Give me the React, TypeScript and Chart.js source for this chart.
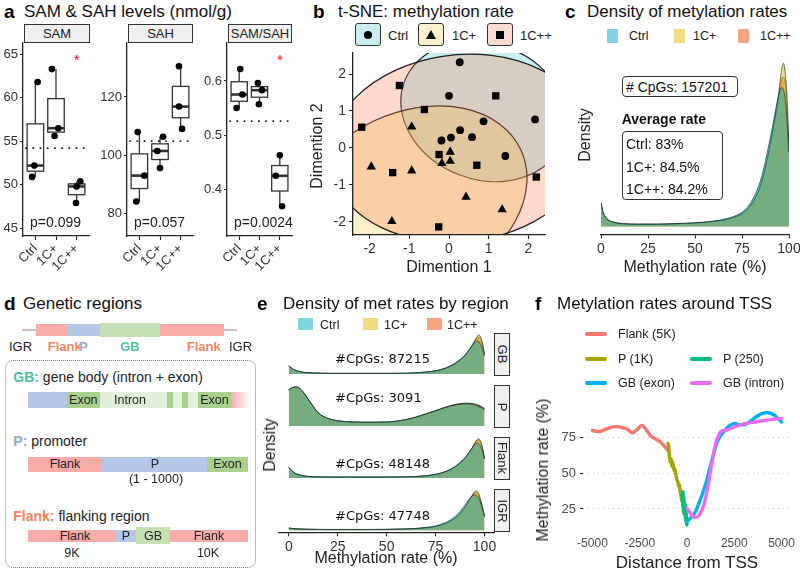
import React, { useEffect, useRef } from "react";
import { Chart, registerables } from "chart.js";

Chart.register(...registerables);

const SANS = '"Liberation Sans", Arial, Helvetica, sans-serif';
const DEJA = '"DejaVu Sans", Verdana, sans-serif';
Chart.defaults.font.family = SANS;
Chart.defaults.color = "#333";

// ---------------- a: SAM & SAH ----------------
const groups = ["Ctrl", "1C+", "1C++"];
const samCtrl = [50.9, 52.2, 61.8];
const samOneC = [55.6, 56.5, 63.3];
const samTwoC = [47.9, 49.8, 50.4];
const samJitter = [[-0.16, -0.05, 0.11], [-0.07, 0.11, -0.2], [-0.03, 0.0, 0.18]];
const samTicks = [45, 50, 55, 60, 65];
const samRef = 54.2;
const samP = "p=0.099";
const samStar = 64.7;

const sahCtrl = [84.0, 92.9, 107.9];
const sahOneC = [95.5, 101.4, 106.3];
const sahTwoC = [109.0, 116.7, 130.6];
const sahJitter = [[-0.15, 0.24, -0.08], [0.0, -0.13, 0.15], [0.07, -0.08, -0.08]];
const sahTicks = [80, 100, 120];
const sahRef = 104.8;
const sahP = "p=0.057";

const ratioCtrl = [0.55, 0.575, 0.622];
const ratioOneC = [0.557, 0.583, 0.596];
const ratioTwoC = [0.369, 0.425, 0.463];
const ratioJitter = [[-0.13, 0.16, 0.05], [-0.03, 0.12, -0.08], [0.11, -0.2, 0.0]];
const ratioTicks = [0.4, 0.5, 0.6];
const ratioRef = 0.526;
const ratioP = "p=0.0024";
const ratioStar = 0.645;

// ---------------- b: t-SNE ----------------
const tsneCtrlX = [0.27, 0.0, 0.87, 2.17, -0.19, 0.05, 0.28, 0.58, 1.42];
const tsneCtrlY = [2.32, 1.41, 0.72, 0.77, 0.2, 0.28, 0.48, 0.29, -0.22];
const tsneOneCX = [-0.94, -1.96, -0.94, 0.03, 0.03, -0.18, 0.43, 1.34, -1.44];
const tsneOneCY = [0.57, -0.51, -0.62, -0.11, -0.36, -0.42, -1.33, -1.67, -1.99];
const tsneTwoCX = [-2.2, -1.25, -0.62, 1.18, -0.25, 0.7, -1.42, -0.26, 2.2];
const tsneTwoCY = [0.56, 1.69, 1.04, 1.41, -0.18, -0.47, -0.67, -2.14, -0.79];
const tsneTicks = [-2, -1, 0, 1, 2];
// ellipse (centre, major semi-axis vector, minor semi-axis vector) in data units
const ellCenter = [[0.88, 0.99], [-0.93, -1.42], [0.28, -0.01]];
const ellMajor = [[2.01, -0.79], [2.74, 1.37], [3.27, 0.54]];
const ellMinor = [[-0.59, -1.73], [0.94, -2.16], [0.45, -2.49]];
const ellFill = ["rgba(75,198,212,0.3)", "rgba(242,205,72,0.3)", "rgba(245,128,85,0.3)"];

// ---------------- c: density ----------------
const densX = [0, 1, 2, 4, 7, 10, 20, 30, 40, 50, 60, 65, 70, 75, 78, 80, 82, 84, 86, 88, 90, 92, 94, 95, 96, 97, 98, 99, 100];
const densCtrl = [9.4, 5.9, 4.2, 2.6, 1.7, 1.3, 1.0, 1.0, 1.2, 1.5, 2.2, 2.8, 3.8, 5.6, 7.7, 9.8, 12.6, 16.2, 21, 27.5, 34.5, 42, 50, 52.5, 54.3, 53.5, 50, 41, 29];
const densOneC = [9.0, 5.6, 4.0, 2.5, 1.6, 1.2, 0.9, 0.9, 1.1, 1.4, 2.0, 2.5, 3.4, 5.0, 6.8, 8.6, 11, 14.2, 18.6, 24.8, 31.8, 40, 48.5, 55, 61, 63.8, 60, 50, 30];
const densTwoC = [9.2, 5.8, 4.1, 2.5, 1.6, 1.2, 0.9, 0.9, 1.1, 1.4, 2.0, 2.6, 3.5, 5.1, 7.0, 8.9, 11.4, 14.6, 19.2, 25.4, 32.3, 40.4, 48.8, 53.5, 57.5, 58.3, 56, 45, 29.5];
const rateTicks = [0, 25, 50, 75, 100];
const densFill = ["rgba(0,172,190,0.5)", "rgba(226,186,10,0.5)", "rgba(235,80,10,0.5)"];

// ---------------- e: density by region ----------------
const eX = [0, 2, 4, 7, 10, 15, 20, 30, 40, 50, 60, 65, 70, 75, 80, 85, 88, 90, 92, 94, 95, 96, 97, 98, 99, 100];
const gbCtrl = [8.5, 5.3, 3.5, 2.0, 1.3, 0.9, 0.7, 0.7, 0.7, 0.7, 0.8, 1.3, 2.1, 3.5, 6.3, 11.5, 16, 20, 25, 30.5, 33, 34.5, 34, 31, 26, 19];
const gbOneC = [8.7, 5.3, 3.4, 1.9, 1.3, 0.9, 0.7, 0.7, 0.7, 0.7, 0.8, 1.2, 1.9, 3.2, 5.8, 10.8, 15.3, 19.3, 24.5, 31, 35, 38.5, 41, 39, 32, 21];
const gbTwoC = [8.6, 5.3, 3.4, 1.9, 1.3, 0.9, 0.7, 0.7, 0.7, 0.7, 0.8, 1.2, 2.0, 3.3, 6.0, 11, 15.5, 19.5, 24.8, 31, 34.5, 37.5, 38.6, 36.5, 30, 20];
const pCtrl = [38, 40.5, 41, 36.5, 28, 14, 8, 4.5, 4, 4.2, 6.8, 9.3, 12.6, 16, 19.5, 22.2, 23, 23.3, 23.2, 22.5, 22, 21.3, 20.5, 19.5, 18.3, 17];
const pOneC = [38, 40.5, 41, 36.5, 28, 14, 8, 4.5, 4, 4.2, 6.8, 9.3, 12.6, 16, 19.6, 22.4, 23.3, 23.6, 23.6, 23, 22.6, 22, 21.3, 20.3, 19.2, 18];
const pTwoC = [38, 40.5, 41, 36.5, 28, 14, 8, 4.5, 4, 4.2, 6.8, 9.4, 12.7, 16.2, 19.8, 22.7, 23.6, 24, 24, 23.6, 23.2, 22.7, 22, 21, 19.8, 18.5];
const flCtrl = [11, 6.5, 4.2, 2.5, 1.7, 1.2, 1.0, 1.0, 1.0, 1.0, 1.2, 1.6, 2.4, 3.9, 6.8, 12, 17, 21, 26, 31.5, 34, 35.8, 35.5, 32.5, 27, 19.5];
const flOneC = [11, 6.5, 4.1, 2.4, 1.6, 1.1, 1.0, 1.0, 1.0, 1.0, 1.1, 1.5, 2.2, 3.6, 6.2, 11.2, 16, 20, 25.5, 32, 36, 39, 40, 38, 31, 20];
const flTwoC = [11, 6.5, 4.1, 2.4, 1.6, 1.1, 1.0, 1.0, 1.0, 1.0, 1.1, 1.5, 2.3, 3.7, 6.4, 11.5, 16.4, 20.3, 25.7, 31.8, 35, 37.8, 38.7, 36.5, 30, 20];
const igrCtrl = [2.3, 1.9, 1.6, 1.3, 1.1, 1.0, 0.9, 0.9, 0.9, 1.0, 1.5, 2.0, 2.9, 4.5, 7.8, 14, 20.5, 25.5, 31.5, 35.5, 36, 35, 32.5, 28, 21.5, 14];
const igrOneC = [2.2, 1.8, 1.5, 1.2, 1.0, 0.9, 0.8, 0.8, 0.8, 0.9, 1.3, 1.7, 2.5, 3.9, 6.8, 12.3, 18, 23, 29.5, 36.5, 39.5, 40, 37.5, 31, 23, 14];
const igrTwoC = [2.2, 1.8, 1.5, 1.2, 1.0, 0.9, 0.8, 0.8, 0.8, 0.9, 1.3, 1.8, 2.6, 4.0, 7.0, 12.6, 18.5, 23.5, 29.8, 36, 38.5, 38.3, 36, 30, 22.5, 14];
const regionNames = ["GB", "P", "Flank", "IGR"];
const regionCpGs = ["#CpGs: 87215", "#CpGs: 3091", "#CpGs: 48148", "#CpGs: 47748"];

// ---------------- f: TSS ----------------
const flankX = [-5000, -4600, -4200, -3800, -3400, -3100, -2900, -2650, -2400, -2150, -1900, -1650, -1400, -1200, -1000];
const flankY = [80, 79.3, 81.5, 82.7, 82, 80.5, 78.3, 80.5, 83.6, 80.5, 76, 74, 72, 69, 66];
const p1kX = [-1000, -960, -920, -880, -840, -800, -760, -720, -680, -640, -600, -560, -520, -480, -440, -400, -360, -320, -280, -240, -200, -160, -120, -80, -40];
const p1kY = [71, 67, 61, 58, 60, 55, 58, 55, 52, 53, 50, 47, 45, 44, 41, 42, 37, 35, 31, 33, 25, 22, 26, 18, 16];
const p250X = [-250, -230, -210, -190, -170, -150, -130, -110, -90, -70, -50, -30, -10, 0];
const p250Y = [35, 29, 37, 26, 33, 22, 29, 24, 28, 19, 23, 16, 14, 15];
const exonX = [0, 200, 400, 600, 800, 1000, 1200, 1400, 1600, 1800, 2000, 2200, 2500, 2800, 3100, 3400, 3700, 4000, 4300, 4600, 5000];
const exonY = [16, 19, 22, 28, 35, 43, 53, 63, 72, 77, 80, 83, 85, 84, 84.5, 87, 90, 92, 92.5, 91, 86];
const intronX = [0, 150, 300, 450, 600, 750, 900, 1050, 1200, 1350, 1500, 1650, 1800, 2000, 2200, 2500, 2800, 3200, 3600, 4000, 4500, 5000];
const intronY = [25.5, 22.5, 20, 19, 20, 23, 28, 37, 48, 60, 70, 76, 79.5, 80, 80.8, 82.5, 84, 85.2, 86, 86.8, 87.8, 88.5];
const tssNames = ["Flank (5K)", "P (1K)", "P (250)", "GB (exon)", "GB (intron)"];
const tssColors = ["#F8766D", "#A3A500", "#00BF7D", "#00B0F6", "#E76BF3"];
const tssXTicks = [-5000, -2500, 0, 2500, 5000];
const tssYTicks = [25, 50, 75];

// ---------------- helpers ----------------
type Box = { x: number; y: number; w: number; h: number };
type Area = { l: number; t: number; r: number; b: number };

function common() {
  return {
    responsive: false,
    maintainAspectRatio: false,
    animation: false,
    devicePixelRatio: 1,
    events: [],
    plugins: { legend: { display: false }, tooltip: { enabled: false } },
  };
}
function pad(box: Box, area: Area, yVis: boolean, xVis: boolean) {
  return {
    left: yVis ? 0 : area.l - box.x,
    top: area.t - box.y,
    right: box.x + box.w - area.r,
    bottom: xVis ? 0 : box.y + box.h - area.b,
  };
}
type AxOpt = {
  size: number; horiz: boolean; min: number; max: number; ticks: number[];
  label?: (v: number) => string; font?: number; color?: string; pad?: number; rot?: number;
  tickLen?: number; line?: boolean; gridColor?: string; gridDash?: number[];
};
function axis(o: AxOpt) {
  return {
    type: "linear",
    display: true,
    min: o.min,
    max: o.max,
    afterBuildTicks: (s: any) => { s.ticks = o.ticks.map((v) => ({ value: v })); },
    afterFit: (s: any) => {
      if (o.horiz) { s.height = o.size; s.paddingLeft = 0; s.paddingRight = 0; }
      else { s.width = o.size; s.paddingTop = 0; s.paddingBottom = 0; }
    },
    ticks: {
      callback: (v: any) => (o.label ? o.label(v) : String(v)),
      font: { size: o.font ?? 14 },
      color: o.color ?? "#333",
      padding: o.pad ?? 2,
      minRotation: o.rot ?? 0,
      maxRotation: o.rot ?? 0,
      autoSkip: false,
    },
    grid: {
      display: true,
      drawOnChartArea: !!o.gridColor,
      color: o.gridColor ?? "rgba(0,0,0,0)",
      lineWidth: 1,
      drawTicks: (o.tickLen ?? 0) > 0,
      tickLength: o.tickLen ?? 0,
      tickColor: "#222",
      tickWidth: 1.1,
      tickBorderDash: [],
    },
    border: { display: o.line ?? true, color: "#222", width: 1.3, dash: o.gridDash ?? [] },
  };
}
function hidden(min: number, max: number) {
  return { type: "linear", display: false, min, max };
}
function quantile(vals: number[], p: number) {
  const s = [...vals].sort((a, b) => a - b);
  const h = (s.length - 1) * p;
  const lo = Math.floor(h);
  const hi = Math.min(lo + 1, s.length - 1);
  return s[lo] + (h - lo) * (s[hi] - s[lo]);
}

function ChartView({ box, make }: { box: Box; make: () => any }) {
  const ref = useRef<HTMLCanvasElement | null>(null);
  useEffect(() => {
    const chart = new Chart(ref.current as HTMLCanvasElement, make());
    return () => chart.destroy();
  }, []);
  return (
    <canvas
      ref={ref}
      width={box.w}
      height={box.h}
      style={{ position: "absolute", left: box.x, top: box.y, width: box.w, height: box.h }}
    />
  );
}

function T(props: {
  x: number; y: number; s?: number; c?: string; w?: number; a?: "l" | "c" | "r"; f?: string; r?: number;
  children: React.ReactNode;
}) {
  const { x, y, s = 14, c = "#222", w = 400, a = "l", f = SANS, r = 0, children } = props;
  const tx = a === "c" ? "-50%" : a === "r" ? "-100%" : "0%";
  return (
    <div
      style={{
        position: "absolute", left: x, top: y, fontSize: s, color: c, fontWeight: w, fontFamily: f,
        lineHeight: 1, whiteSpace: "nowrap",
        transform: `translate(${tx}, -50%)${r ? ` rotate(${r}deg)` : ""}`,
      }}
    >
      {children}
    </div>
  );
}

function Rect(props: { x0: number; x1: number; y0: number; y1: number; bg: string; extra?: any }) {
  const { x0, x1, y0, y1, bg, extra = {} } = props;
  return (
    <div style={{ position: "absolute", left: x0, top: y0, width: x1 - x0, height: y1 - y0, background: bg, boxSizing: "border-box", ...extra }} />
  );
}

// ---------------- chart makers ----------------
function boxChart(box: Box, area: Area, series: number[][], jitter: number[][], yMin: number, yMax: number,
  yTicks: number[], ref: number, pText: string, star: number | null) {
  return () => {
    const pts = series.flatMap((vals, g) => vals.map((v, i) => ({ x: g + 1 + jitter[g][i], y: v })));
    const plugin = {
      id: "boxes",
      beforeDatasetsDraw(chart: any) {
        const { ctx, scales } = chart;
        const x = scales.x, y = scales.y;
        ctx.save();
        series.forEach((vals, g) => {
          const q1 = quantile(vals, 0.25), md = quantile(vals, 0.5), q3 = quantile(vals, 0.75);
          const lo = Math.min(...vals), hi = Math.max(...vals);
          const xc = x.getPixelForValue(g + 1);
          const x0 = x.getPixelForValue(g + 1 - 0.4), x1 = x.getPixelForValue(g + 1 + 0.4);
          ctx.strokeStyle = "#333";
          ctx.lineWidth = 1.3;
          ctx.beginPath();
          ctx.moveTo(xc, y.getPixelForValue(hi)); ctx.lineTo(xc, y.getPixelForValue(q3));
          ctx.moveTo(xc, y.getPixelForValue(q1)); ctx.lineTo(xc, y.getPixelForValue(lo));
          ctx.stroke();
          const yt = y.getPixelForValue(q3), yb = y.getPixelForValue(q1);
          ctx.fillStyle = "#fff";
          ctx.fillRect(x0, yt, x1 - x0, yb - yt);
          ctx.strokeRect(x0, yt, x1 - x0, yb - yt);
          ctx.lineWidth = 2.6;
          const ym = y.getPixelForValue(md);
          ctx.beginPath(); ctx.moveTo(x0, ym); ctx.lineTo(x1, ym); ctx.stroke();
        });
        const ca = chart.chartArea;
        const yr = y.getPixelForValue(ref);
        ctx.strokeStyle = "#111";
        ctx.lineWidth = 1.8;
        ctx.lineCap = "round";
        ctx.setLineDash([0.2, 7]);
        ctx.beginPath(); ctx.moveTo(ca.left + 3, yr); ctx.lineTo(ca.right, yr); ctx.stroke();
        ctx.restore();
      },
      afterDatasetsDraw(chart: any) {
        const { ctx, scales, chartArea: ca } = chart;
        ctx.save();
        ctx.font = `14px ${SANS}`;
        ctx.fillStyle = "#222";
        ctx.textBaseline = "middle";
        ctx.textAlign = "left";
        ctx.fillText(pText, ca.left + 7, ca.bottom - 13);
        if (star !== null) {
          ctx.fillStyle = "#ff0000";
          ctx.textAlign = "center";
          ctx.textBaseline = "alphabetic";
          ctx.font = `15px ${SANS}`;
          ctx.fillText("*", scales.x.getPixelForValue(3), scales.y.getPixelForValue(star) + 8);
        }
        ctx.restore();
      },
    };
    return {
      type: "scatter",
      data: { datasets: [{ data: pts, pointRadius: 3.3, backgroundColor: "#000", borderColor: "#000", borderWidth: 0 }] },
      options: {
        ...common(),
        layout: { padding: pad(box, area, true, true) },
        scales: {
          x: axis({ size: box.y + box.h - area.b, horiz: true, min: 0.4, max: 3.6, ticks: [1, 2, 3],
            label: (v) => groups[v - 1], font: 13, rot: 45, tickLen: 4, pad: 1 }),
          y: axis({ size: area.l - box.x, horiz: false, min: yMin, max: yMax, ticks: yTicks, font: 13, tickLen: 3, pad: 2 }),
        },
      },
      plugins: [plugin],
    };
  };
}

function tsneChart(box: Box, area: Area) {
  return () => {
    const mk = (xs: number[], ys: number[]) => xs.map((x, i) => ({ x, y: ys[i] }));
    const plugin = {
      id: "ellipses",
      beforeDraw(chart: any) {
        const { ctx, chartArea: ca, scales } = chart;
        const x = scales.x, y = scales.y;
        ctx.save();
        ctx.beginPath();
        ctx.rect(ca.left, ca.top, ca.right - ca.left, ca.bottom - ca.top);
        ctx.clip();
        ellCenter.forEach((c, i) => {
          const cx = x.getPixelForValue(c[0]), cy = y.getPixelForValue(c[1]);
          const ux = x.getPixelForValue(c[0] + ellMajor[i][0]) - cx, uy = y.getPixelForValue(c[1] + ellMajor[i][1]) - cy;
          const vx = x.getPixelForValue(c[0] + ellMinor[i][0]) - cx, vy = y.getPixelForValue(c[1] + ellMinor[i][1]) - cy;
          ctx.save();
          ctx.beginPath();
          ctx.transform(ux, uy, vx, vy, cx, cy);
          ctx.arc(0, 0, 1, 0, Math.PI * 2);
          ctx.closePath();
          ctx.restore();
          ctx.fillStyle = ellFill[i];
          ctx.fill();
          ctx.strokeStyle = "rgba(10,10,10,0.9)";
          ctx.lineWidth = 1.2;
          ctx.stroke();
        });
        ctx.restore();
      },
    };
    const ds = (data: any[], style: string, r: number) => ({
      data, pointStyle: style, pointRadius: r, backgroundColor: "#000", borderColor: "#000", borderWidth: 0,
    });
    return {
      type: "scatter",
      data: {
        datasets: [
          ds(mk(tsneCtrlX, tsneCtrlY), "circle", 3.9),
          ds(mk(tsneOneCX, tsneOneCY), "triangle", 5.4),
          ds(mk(tsneTwoCX, tsneTwoCY), "rect", 5.2),
        ],
      },
      options: {
        ...common(),
        layout: { padding: pad(box, area, true, true) },
        scales: {
          x: axis({ size: box.y + box.h - area.b, horiz: true, min: -2.42, max: 2.42, ticks: tsneTicks, font: 14, tickLen: 4, pad: 2 }),
          y: axis({ size: area.l - box.x, horiz: false, min: -2.36, max: 2.57, ticks: tsneTicks, font: 14, tickLen: 4, pad: 3 }),
        },
      },
      plugins: [plugin],
    };
  };
}

function densDatasets(xs: number[], series: number[][]) {
  return series.map((ys, i) => ({
    data: xs.map((x, j) => ({ x, y: ys[j] })),
    fill: "origin",
    backgroundColor: densFill[i],
    borderColor: "rgba(25,40,35,0.9)",
    borderWidth: 0.7,
    pointRadius: 0,
    cubicInterpolationMode: "monotone",
  }));
}

function densChart(box: Box, area: Area) {
  return () => ({
    type: "line",
    data: { datasets: densDatasets(densX, [densCtrl, densOneC, densTwoC]) },
    options: {
      ...common(),
      layout: { padding: pad(box, area, false, true) },
      scales: {
        x: axis({ size: box.y + box.h - area.b, horiz: true, min: 0, max: 100, ticks: rateTicks, font: 14, tickLen: 4, pad: 2 }),
        y: hidden(-3, 67),
      },
    },
  });
}

function facetChart(box: Box, area: Area, series: number[][], showX: boolean) {
  return () => {
    const M = Math.max(...series.flat());
    return {
      type: "line",
      data: { datasets: densDatasets(eX, series) },
      options: {
        ...common(),
        layout: { padding: pad(box, area, false, showX) },
        scales: {
          x: showX
            ? axis({ size: box.y + box.h - area.b, horiz: true, min: -5, max: 105, ticks: rateTicks, font: 14, tickLen: 4, pad: 2 })
            : hidden(-5, 105),
          y: hidden(-0.05 * M, 1.05 * M),
        },
      },
    };
  };
}

function tssChart(box: Box, area: Area) {
  return () => {
    const xsAll = [flankX, p1kX, p250X, exonX, intronX];
    const ysAll = [flankY, p1kY, p250Y, exonY, intronY];
    return {
      type: "line",
      data: {
        datasets: xsAll.map((xs, i) => ({
          data: xs.map((x, j) => ({ x, y: ysAll[i][j] })),
          borderColor: tssColors[i],
          borderWidth: 3.4,
          pointRadius: 0,
          tension: 0.35,
          borderCapStyle: "round",
          borderJoinStyle: "round",
          fill: false,
          order: 5 - i,
        })),
      },
      options: {
        ...common(),
        layout: { padding: pad(box, area, true, true) },
        scales: {
          x: axis({ size: box.y + box.h - area.b, horiz: true, min: -5500, max: 5500, ticks: tssXTicks, font: 12,
            color: "#4d4d4d", tickLen: 0, pad: 5, line: false }),
          y: axis({ size: area.l - box.x, horiz: false, min: 9, max: 96, ticks: tssYTicks, font: 13,
            color: "#4d4d4d", tickLen: 3, pad: 4, line: false, gridColor: "#bdbdbd", gridDash: [1, 4] }),
        },
      },
    };
  };
}

// ---------------- layout constants ----------------
const samBox: Box = { x: 0, y: 35, w: 100, h: 241 };
const samArea: Area = { l: 23, t: 43, r: 89, b: 236 };
const sahBox: Box = { x: 95, y: 35, w: 105, h: 241 };
const sahArea: Area = { l: 127, t: 43, r: 193, b: 236 };
const ratioBox: Box = { x: 192, y: 35, w: 108, h: 241 };
const ratioArea: Area = { l: 227, t: 43, r: 292, b: 236 };
const tsneBox: Box = { x: 318, y: 45, w: 237, h: 220 };
const tsneArea: Area = { l: 353, t: 53, r: 545, b: 235 };
const densBox: Box = { x: 585, y: 45, w: 215, h: 220 };
const densArea: Area = { l: 601, t: 55, r: 789, b: 234.3 };
const facetTops = [332.7, 385, 436.8, 489];
const facetH = 43.3;
const tssBox: Box = { x: 540, y: 398, w: 260, h: 176 };
const tssArea: Area = { l: 583, t: 407.7, r: 791, b: 531.8 };

const PINK = "#f7acaa", BLUE = "#b4c7e7", GREEN = "#c5e0b4", DGREEN = "#a9d18e", LGREEN = "#e2f0d9";
const ORANGE = "#f5845c", PBLUE = "#8eaadb", TEAL = "#4dbf9b";

function Strip({ x, y, w, h, label }: { x: number; y: number; w: number; h: number; label: string }) {
  return (
    <div style={{ position: "absolute", left: x, top: y, width: w, height: h, background: "#f0f0f0",
      border: "1px solid #333", boxSizing: "border-box", display: "flex", alignItems: "center", justifyContent: "center",
      fontSize: 13, color: "#222", fontFamily: SANS }}>
      {label}
    </div>
  );
}

function VStrip({ x, y, w, h, label }: { x: number; y: number; w: number; h: number; label: string }) {
  return (
    <div style={{ position: "absolute", left: x, top: y, width: w, height: h, background: "#f0f0f0",
      border: "1px solid #333", boxSizing: "border-box" }}>
      <div style={{ position: "absolute", left: "50%", top: "50%", transform: "translate(-50%,-50%) rotate(90deg)",
        fontSize: 13, color: "#222", fontFamily: SANS, whiteSpace: "nowrap", lineHeight: 1 }}>{label}</div>
    </div>
  );
}

function Sym({ kind, cx, cy }: { kind: string; cx: number; cy: number }) {
  return (
    <svg width={14} height={14} style={{ position: "absolute", left: cx - 7, top: cy - 7 }}>
      {kind === "circle" && <circle cx={7} cy={7} r={4} fill="#000" />}
      {kind === "tri" && <polygon points="7,2 12,11 2,11" fill="#000" />}
      {kind === "sq" && <rect x={3} y={3} width={8} height={8} fill="#000" />}
    </svg>
  );
}

export default function App() {
  const tsneLegend = [
    { label: groups[0], fill: "#c9eef0", kind: "circle", x: 355, tx: 388 },
    { label: groups[1], fill: "#fbf0cd", kind: "tri", x: 418, tx: 452 },
    { label: groups[2], fill: "#fbdbd0", kind: "sq", x: 487, tx: 520 },
  ];
  const densLegend = [
    { label: groups[0], x: 607, tx: 629 },
    { label: groups[1], x: 674, tx: 693 },
    { label: groups[2], x: 738, tx: 760 },
  ];
  const eLegend = [
    { label: groups[0], x: 298, tx: 320 },
    { label: groups[1], x: 363, tx: 384 },
    { label: groups[2], x: 427, tx: 447 },
  ];
  const facetSeries = [
    [gbCtrl, gbOneC, gbTwoC],
    [pCtrl, pOneC, pTwoC],
    [flCtrl, flOneC, flTwoC],
    [igrCtrl, igrOneC, igrTwoC],
  ];
  const cpgY = [358.3, 396.7, 463.3, 515];
  const tssLegendPos = [
    { x: 585, y: 334.3 }, { x: 585, y: 359 }, { x: 690, y: 359 }, { x: 585, y: 383.3 }, { x: 690, y: 383.3 },
  ];

  return (
    <div style={{ position: "absolute", left: 0, top: 0, width: 800, height: 574, background: "#fff", overflow: "hidden", fontFamily: SANS }}>
      {/* ---------- a ---------- */}
      <T x={4} y={11} s={19} w={700} c="#000">a</T>
      <T x={24} y={11} s={17} c="#111">{"SAM & SAH levels (nmol/g)"}</T>
      <Strip x={24} y={24} w={66} h={19} label="SAM" />
      <Strip x={128} y={24} w={65} h={19} label="SAH" />
      <Strip x={228} y={24} w={64} h={19} label="SAM/SAH" />
      <ChartView box={samBox} make={boxChart(samBox, samArea, [samCtrl, samOneC, samTwoC], samJitter, 44.1, 66.3, samTicks, samRef, samP, samStar)} />
      <ChartView box={sahBox} make={boxChart(sahBox, sahArea, [sahCtrl, sahOneC, sahTwoC], sahJitter, 72.1, 138.6, sahTicks, sahRef, sahP, null)} />
      <ChartView box={ratioBox} make={boxChart(ratioBox, ratioArea, [ratioCtrl, ratioOneC, ratioTwoC], ratioJitter, 0.314, 0.67, ratioTicks, ratioRef, ratioP, ratioStar)} />

      {/* ---------- b ---------- */}
      <T x={313} y={11} s={19} w={700} c="#000">b</T>
      <T x={338} y={11} s={17} c="#111">t-SNE: methylation rate</T>
      {tsneLegend.map((it) => (
        <React.Fragment key={it.label}>
          <div style={{ position: "absolute", left: it.x, top: 23, width: 26, height: 23, background: it.fill,
            border: "1px solid #333", borderRadius: 3, boxSizing: "border-box" }} />
          <Sym kind={it.kind} cx={it.x + 13} cy={34.5} />
          <T x={it.tx} y={34.5} s={13} c="#222">{it.label}</T>
        </React.Fragment>
      ))}
      <ChartView box={tsneBox} make={tsneChart(tsneBox, tsneArea)} />
      <T x={449} y={267} s={16} a="c" c="#222">Dimention 1</T>
      <T x={317} y={146} s={16} a="c" r={-90} c="#222">Dimention 2</T>

      {/* ---------- c ---------- */}
      <T x={565} y={11} s={19} w={700} c="#000">c</T>
      <T x={587} y={11} s={17} c="#111">Density of metylation rates</T>
      {densLegend.map((it, i) => (
        <React.Fragment key={it.label}>
          <div style={{ position: "absolute", left: it.x, top: 29, width: 11, height: 14, background: densFill[i] }} />
          <T x={it.tx} y={36} s={12.5} c="#222">{it.label}</T>
        </React.Fragment>
      ))}
      <ChartView box={densBox} make={densChart(densBox, densArea)} />
      <div style={{ position: "absolute", left: 621.7, top: 76, width: 116.3, height: 21.3, border: "1px solid #333",
        borderRadius: 4, boxSizing: "border-box", background: "#fff" }} />
      <T x={626} y={86.7} s={14} c="#111">{"# CpGs: 157201"}</T>
      <T x={621.7} y={119} s={14} w={700} c="#111">Average rate</T>
      <div style={{ position: "absolute", left: 621.7, top: 131, width: 101, height: 69, border: "1px solid #333",
        borderRadius: 4, boxSizing: "border-box", background: "#fff" }} />
      <T x={626} y={144.3} s={14} c="#111">Ctrl: 83%</T>
      <T x={626} y={166.7} s={14} c="#111">1C+: 84.5%</T>
      <T x={626} y={188.7} s={14} c="#111">1C++: 84.2%</T>
      <T x={585} y={135} s={16} a="c" r={-90} c="#222">Density</T>
      <T x={695} y={267} s={16} a="c" c="#222">Methylation rate (%)</T>

      {/* ---------- d ---------- */}
      <T x={4} y={303} s={19} w={700} c="#000">d</T>
      <T x={23} y={303} s={17} c="#111">Genetic regions</T>
      <Rect x0={22} x1={237} y0={329} y1={331} bg="#d9bcbc" />
      <Rect x0={35.7} x1={67.7} y0={324.3} y1={336} bg={PINK} />
      <Rect x0={67.7} x1={100} y0={324.3} y1={336} bg={BLUE} />
      <Rect x0={100} x1={160} y0={322.7} y1={337.3} bg={GREEN} />
      <Rect x0={160} x1={224} y0={324.3} y1={336} bg={PINK} />
      <T x={9} y={346} s={13} c="#222">IGR</T>
      <T x={47.7} y={346} s={13} w={700} c={ORANGE}>Flank</T>
      <T x={79} y={346} s={13} w={700} c={PBLUE}>P</T>
      <T x={130} y={346} s={13} w={700} a="c" c={TEAL}>GB</T>
      <T x={186.7} y={346} s={13} w={700} c={ORANGE}>Flank</T>
      <T x={229} y={346} s={13} c="#222">IGR</T>
      <div style={{ position: "absolute", left: 5, top: 360, width: 250.7, height: 208.3, border: "1.3px dotted #777",
        borderRadius: 8, boxSizing: "border-box" }} />
      <T x={13.3} y={376.7} s={14} c="#222"><span style={{ color: TEAL, fontWeight: 700 }}>GB:</span> gene body (intron + exon)</T>
      <Rect x0={28.3} x1={66.7} y0={392.3} y1={407.7} bg={BLUE} />
      <Rect x0={66.7} x1={100} y0={392.3} y1={407.7} bg={DGREEN} />
      <Rect x0={100} x1={166.7} y0={392.3} y1={407.7} bg={LGREEN} />
      <Rect x0={166.7} x1={173.3} y0={392.3} y1={407.7} bg={DGREEN} />
      <Rect x0={173.3} x1={182} y0={392.3} y1={407.7} bg={LGREEN} />
      <Rect x0={182} x1={188.3} y0={392.3} y1={407.7} bg={DGREEN} />
      <Rect x0={188.3} x1={198} y0={392.3} y1={407.7} bg={LGREEN} />
      <Rect x0={198} x1={231} y0={392.3} y1={407.7} bg={DGREEN} />
      <Rect x0={231} x1={248.3} y0={392.3} y1={407.7} bg={`linear-gradient(to right, ${PINK}, rgba(247,172,170,0.1))`} />
      <T x={83.3} y={400} s={12.5} a="c" c="#222">Exon</T>
      <T x={130} y={400} s={12.5} a="c" c="#222">Intron</T>
      <T x={214.5} y={400} s={12.5} a="c" c="#222">Exon</T>

      <T x={13.3} y={441} s={14} c="#222"><span style={{ color: PBLUE, fontWeight: 700 }}>P:</span>{"  promoter"}</T>
      <Rect x0={28.3} x1={101.7} y0={456.7} y1={471.7} bg={PINK} />
      <Rect x0={101.7} x1={206.7} y0={456.7} y1={471.7} bg={BLUE} />
      <Rect x0={206.7} x1={248.3} y0={456.7} y1={471.7} bg={DGREEN} />
      <T x={65} y={464.2} s={12.5} a="c" c="#222">Flank</T>
      <T x={155} y={464.2} s={12.5} a="c" c="#222">P</T>
      <T x={227.5} y={464.2} s={12.5} a="c" c="#222">Exon</T>
      <T x={156} y={479} s={12.5} a="c" c="#222">(1 - 1000)</T>

      <T x={13.3} y={515.7} s={14} c="#222"><span style={{ color: ORANGE, fontWeight: 700 }}>Flank:</span> flanking region</T>
      <Rect x0={28.3} x1={115.7} y0={530} y1={542.3} bg={PINK} />
      <Rect x0={115.7} x1={136} y0={530} y1={542.3} bg={BLUE} />
      <Rect x0={136} x1={170} y0={527.3} y1={544} bg={GREEN} />
      <Rect x0={170} x1={248.3} y0={530} y1={542.3} bg={PINK} />
      <T x={75} y={536} s={12.5} a="c" c="#222">Flank</T>
      <T x={126} y={536} s={12.5} a="c" c="#222">P</T>
      <T x={153} y={536} s={12.5} a="c" c="#222">GB</T>
      <T x={209} y={536} s={12.5} a="c" c="#222">Flank</T>
      <T x={72} y={553.3} s={12.5} a="c" c="#222">9K</T>
      <T x={208} y={553.3} s={12.5} a="c" c="#222">10K</T>

      {/* ---------- e ---------- */}
      <T x={257} y={303} s={19} w={700} c="#000">e</T>
      <T x={283} y={303} s={17} c="#111">Density of met rates by region</T>
      {eLegend.map((it, i) => (
        <React.Fragment key={it.label}>
          <div style={{ position: "absolute", left: it.x, top: 318, width: 15, height: 12, background: densFill[i] }} />
          <T x={it.tx} y={324.5} s={12.5} c="#222">{it.label}</T>
        </React.Fragment>
      ))}
      {facetSeries.map((series, k) => {
        const last = k === 3;
        const box: Box = { x: 270, y: facetTops[k] - 3, w: 230, h: last ? 574 - (facetTops[k] - 3) : facetH + 6 };
        const area: Area = { l: 279, t: facetTops[k], r: 494.3, b: facetTops[k] + facetH };
        return <ChartView key={regionNames[k]} box={box} make={facetChart(box, area, series, last)} />;
      })}
      {regionNames.map((nm, k) => (
        <VStrip key={nm} x={494.3} y={facetTops[k]} w={15.7} h={facetH} label={nm} />
      ))}
      {regionCpGs.map((t, k) => (
        <T key={t} x={335} y={cpgY[k]} s={13} f={DEJA} c="#111">{t}</T>
      ))}
      <T x={270} y={445} s={16} a="c" r={-90} c="#222">Density</T>
      <T x={386} y={558.3} s={16} a="c" c="#222">Methylation rate (%)</T>

      {/* ---------- f ---------- */}
      <T x={535} y={303} s={19} w={700} c="#000">f</T>
      <T x={557} y={303} s={17} c="#111">Metylation rates around TSS</T>
      {tssNames.map((nm, i) => (
        <React.Fragment key={nm}>
          <div style={{ position: "absolute", left: tssLegendPos[i].x, top: tssLegendPos[i].y - 2, width: 22, height: 4,
            background: tssColors[i], borderRadius: 2 }} />
          <T x={tssLegendPos[i].x + 33} y={tssLegendPos[i].y} s={12.5} c="#222">{nm}</T>
        </React.Fragment>
      ))}
      <ChartView box={tssBox} make={tssChart(tssBox, tssArea)} />
      <T x={543} y={470} s={16} a="c" r={-90} c="#222">Methylation rate (%)</T>
      <T x={687} y={562} s={17} a="c" c="#222">Distance from TSS</T>
    </div>
  );
}
